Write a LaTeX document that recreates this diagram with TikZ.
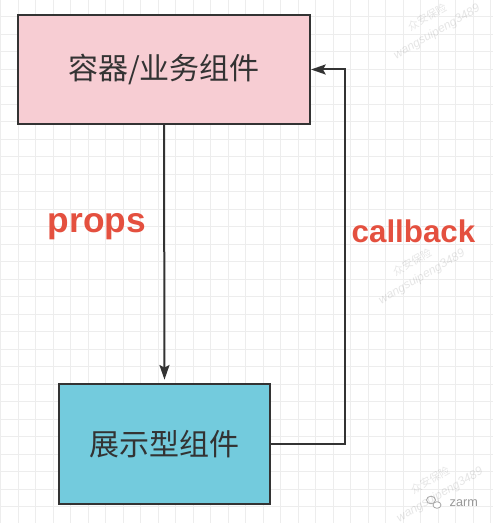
\documentclass[tikz,border=0pt]{standalone}
\usepackage{fontspec}
\newfontfamily\cjk{Noto Sans CJK SC}
\newfontfamily\arialfont{Liberation Sans}
\usepackage{tikz}
\usetikzlibrary{arrows.meta, positioning, calc}
\definecolor{linegray}{HTML}{333333}
\definecolor{boxpink}{HTML}{F7CDD3}
\definecolor{boxcyan}{HTML}{73CBDD}
\definecolor{labelred}{HTML}{E4503F}
\definecolor{gridgray}{HTML}{EDEDED}
\tikzset{
	boxnode/.style={draw=linegray, line width=1.5pt, align=center, text=linegray, font=\cjk\fontsize{22.5}{27}\selectfont}
}
\tikzset{
	redtext/.style={text=labelred, font=\arialfont\bfseries}
}
\tikzset{
	marktext/.style={text=black, opacity=0.1, rotate=30, font=\arialfont\itshape\fontsize{9}{10}\selectfont}
}

\begin{document}
\begin{tikzpicture}[x=0.75pt, y=-0.75pt, >={Stealth[length=11pt, width=7.5pt, inset=2pt]}]
      \useasboundingbox (0,0) rectangle (493,523);
      \fill[white] (0,0) rectangle (493,523);
      % background grid
      \foreach \gx in {0,...,28} \draw[gridgray, line width=1pt] ({0.8+17.5*\gx},0) -- ({0.8+17.5*\gx},523);
      \foreach \gy in {1,...,30} \draw[gridgray, line width=1pt] (0,{-0.8+17.5*\gy}) -- (493,{-0.8+17.5*\gy});
      % faint watermarks
      \node[marktext, font=\cjk\fontsize{8}{9}\selectfont] (wmA) at (427,17) {众安保险};
      \node[marktext] (wmB) at (437,32) {wangsuipeng3489};
      \node[marktext, font=\cjk\fontsize{8}{9}\selectfont] (wmC) at (412,262) {众安保险};
      \node[marktext] (wmD) at (422,277) {wangsuipeng3489};
      \node[marktext, font=\cjk\fontsize{8}{9}\selectfont] (wmE) at (430,480) {众安保险};
      \node[marktext] (wmF) at (440,495) {wangsuipeng3489};

      \node[boxnode, fill=boxpink, minimum width=219pt, minimum height=81.75pt] (container) at (164,69.5) {容器/业务组件};
      \node[boxnode, fill=boxcyan, minimum width=158.25pt, minimum height=90pt] (display) at (164.5,444) {展示型组件};

      \draw[linegray, line width=1.5pt, ->, shorten >=2.5pt] (container.south) -- (display.north);
      \coordinate (turn) at (345,0);
      \draw[linegray, line width=1.5pt, ->] (display.east) -| (turn |- container.east) -- (container.east);

      \node[redtext, anchor=base, font=\arialfont\bfseries\fontsize{26.5}{30}\selectfont] (props) at (97,233) {props};
      \node[redtext, anchor=base, font=\arialfont\bfseries\fontsize{23.5}{28}\selectfont] (callback) at (413.5,243) {callback};

      % wechat mark
      \draw[gray!70, line width=0.6pt] (431,500) ellipse (4.5 and 3.8);
      \draw[gray!70, line width=0.6pt, fill=white] (437,505) ellipse (4 and 3.3);
      \node[text=gray!80, font=\arialfont\fontsize{9.5}{11}\selectfont, anchor=west] (zarm) at (445,503) {zarm};
    \end{tikzpicture}
\end{document}
